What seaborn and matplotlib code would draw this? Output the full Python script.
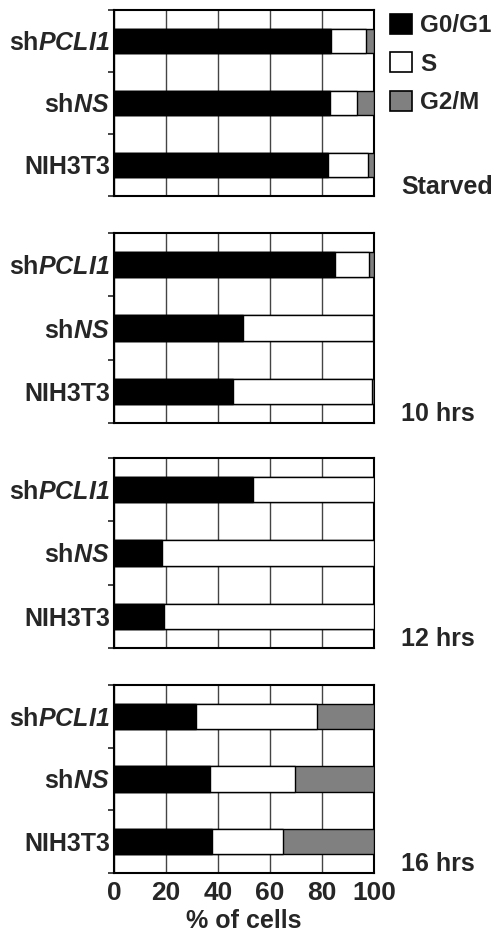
import pandas as pd
import matplotlib
matplotlib.use('Agg')
import matplotlib.pyplot as plt
import seaborn as sns
from matplotlib.patches import Patch

sns.set_style('ticks')
plt.rcParams['font.family'] = ['Liberation Sans', 'DejaVu Sans']
plt.rcParams['font.weight'] = 'bold'
plt.rcParams['mathtext.fontset'] = 'custom'
plt.rcParams['mathtext.bfit'] = 'Liberation Sans:italic:bold'

# data (% of cells)
cell_lines = ['shPCLI1', 'shNS', 'NIH3T3']
tick_labels = [r'sh$\mathbfit{PCLI1}$', r'sh$\mathbfit{NS}$', 'NIH3T3']
conditions = ['Starved', '10 hrs', '12 hrs', '16 hrs']
g0g1 = [[83.6, 83.1, 82.4],
        [85.0, 49.7, 45.9],
        [53.6, 18.6, 19.3],
        [31.4, 36.9, 37.6]]
s_phase = [[13.2, 10.2, 15.4],
           [13.2, 50.0, 53.5],
           [46.4, 81.4, 80.7],
           [46.6, 32.8, 27.3]]
g2m = [[3.2, 6.7, 2.2],
       [1.8, 0.3, 0.6],
       [0.0, 0.0, 0.0],
       [22.0, 30.3, 35.1]]

phase_names = ['G0/G1', 'S', 'G2/M']
phase_colors = ['black', 'white', '#808080']

fig = plt.figure(figsize=(4.98, 9.35), dpi=100)
W, H = 498, 935
panels_px = [(10, 196), (233, 423), (458, 648), (685, 873)]
x0, x1 = 114, 374

for i, (top, bot) in enumerate(panels_px):
    ax = fig.add_axes([x0 / W, 1 - bot / H, (x1 - x0) / W, (bot - top) / H])
    df = pd.DataFrame({'line': cell_lines,
                       'G0/G1': g0g1[i],
                       'S': s_phase[i],
                       'G2/M': g2m[i]})
    df['c1'] = df['G0/G1']
    df['c2'] = df['G0/G1'] + df['S']
    df['c3'] = df['c2'] + df['G2/M']
    # stacked: draw the cumulative totals, widest first
    for col, colr in zip(['c3', 'c2', 'c1'], phase_colors[::-1]):
        sns.barplot(data=df, x=col, y='line', orient='h', color=colr,
                    width=0.4, edgecolor='black', linewidth=1.0,
                    saturation=1, ax=ax, zorder=3)
    ax.set_xlim(0, 100)
    ax.set_ylim(2.5, -0.5)
    ax.set_xticks([0, 20, 40, 60, 80, 100])
    ax.xaxis.grid(True, color='#444444', linewidth=1.0, zorder=0)
    ax.yaxis.grid(False)
    ax.set_axisbelow(True)
    ax.set_yticks([0, 1, 2])
    ax.set_yticklabels(tick_labels, fontsize=18, fontweight='bold')
    ax.set_yticks([-0.5, 0.5, 1.5, 2.5], minor=True)
    ax.tick_params(axis='y', which='major', length=0, pad=3)
    ax.tick_params(axis='y', which='minor', length=4, width=1.2, direction='out')
    ax.tick_params(axis='x', length=0, pad=6, labelsize=19)
    ax.set_ylabel('')
    ax.set_xlabel('')
    for sp in ax.spines.values():
        sp.set_visible(True)
        sp.set_color('black')
        sp.set_linewidth(1.5)
    if i < 3:
        ax.set_xticklabels([])
    else:
        ax.set_xticklabels([0, 20, 40, 60, 80, 100], fontweight='bold')
        ax.set_xlabel('% of cells', fontsize=18, fontweight='bold', labelpad=3)
    fig.text(401 / W, 1 - (bot - 9) / H, conditions[i], fontsize=18,
             fontweight='bold', ha='left', va='center')

handles = [Patch(facecolor=c, edgecolor='black', linewidth=1.2) for c in phase_colors]
fig.legend(handles, phase_names, loc='upper left',
           bbox_to_anchor=(380 / W, 1 - 4 / H), frameon=False,
           handlelength=0.9, handleheight=0.9,
           handletextpad=0.35, labelspacing=0.62, borderaxespad=0,
           prop={'weight': 'bold', 'size': 17.5})

plt.savefig('out.png', dpi=100)
